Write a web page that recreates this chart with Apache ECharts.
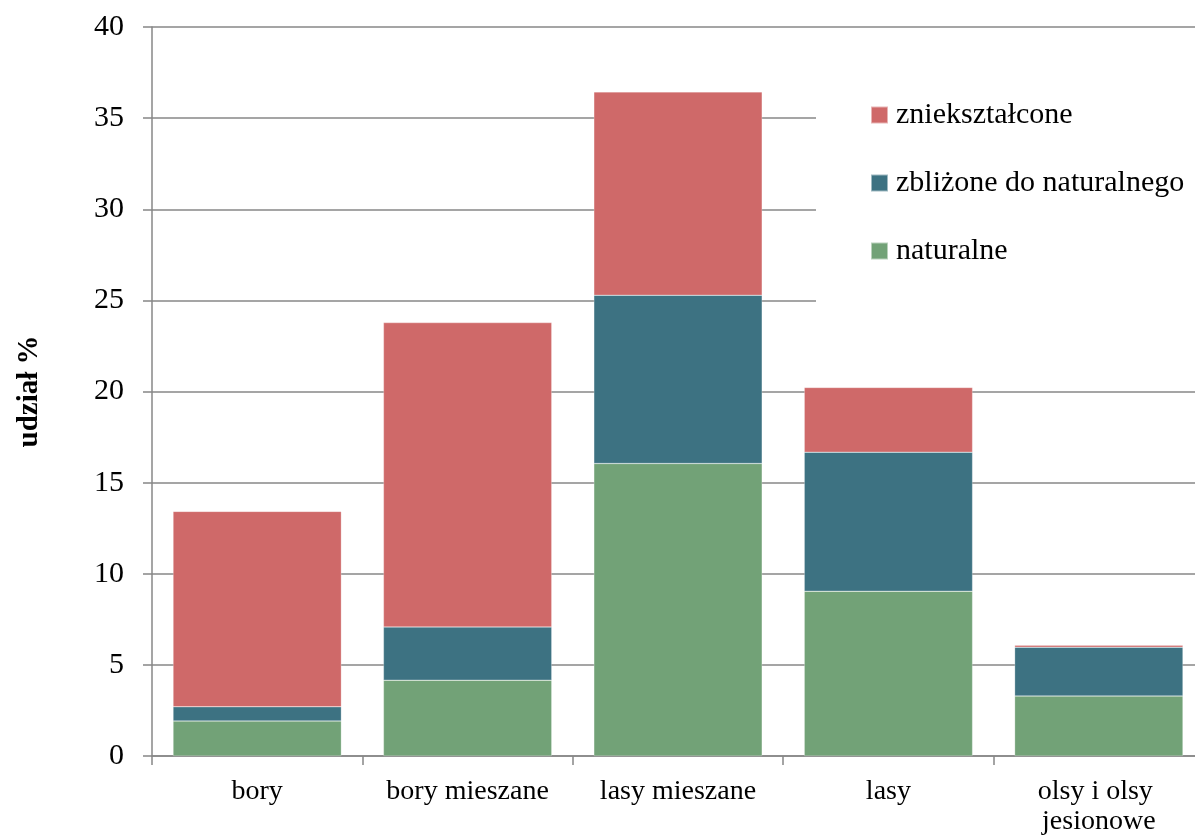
<!DOCTYPE html>
<html><head><meta charset="utf-8">
<script src="https://cdn.jsdelivr.net/npm/echarts@6/dist/echarts.min.js"></script>
<style>html,body{margin:0;padding:0;background:#fff;overflow:hidden;width:1195px;height:837px}#c{width:1204px;height:837px}</style>
</head><body><div id="c"></div>
<script>
const categories = ['bory', 'bory mieszane', 'lasy mieszane', 'lasy', 'olsy i olsy jesionowe'];
const naturalne = [1.92, 4.16, 16.05, 9.04, 3.29];
const zblizone = [0.78, 2.92, 9.23, 7.63, 2.68];
const znieksztalcone = [10.72, 16.70, 11.16, 3.55, 0.11];
const yTicks = [0, 5, 10, 15, 20, 25, 30, 35, 40];

const FONT = '"Liberation Serif", "DejaVu Serif", serif';
const GRID = '#878787';
const chart = echarts.init(document.getElementById('c'), null, {renderer: 'canvas'});
const bar = (name, data, color) => ({
  name, type: 'bar', stack: 'total', data, barCategoryGap: '20%',
  itemStyle: {color, borderColor: 'rgba(255,255,255,0.5)', borderWidth: 0.5},
  emphasis: {disabled: true}
});
chart.setOption({
  animation: false,
  backgroundColor: '#fff',
  grid: {left: 152, top: 27, right: 0, bottom: 74, containLabel: false},
  legend: {
    orient: 'vertical', left: 816, top: 60,
    padding: [40, 20, 40, 54],
    backgroundColor: '#fff',
    itemWidth: 17, itemHeight: 17, itemGap: 38,
    icon: 'rect',
    data: ['zniekształcone', 'zbliżone do naturalnego', 'naturalne'],
    textStyle: {fontFamily: FONT, fontSize: 30, color: '#000', lineHeight: 30, padding: [0,0,0,3]}
  },
  xAxis: {
    type: 'category', data: categories,
    axisLine: {lineStyle: {color: GRID, width: 1.5}},
    axisTick: {show: true, length: 9, lineStyle: {color: GRID, width: 1.5}},
    axisLabel: {
      fontFamily: FONT, fontSize: 28, color: '#000', margin: 21,
      width: 175, overflow: 'break', lineHeight: 30, interval: 0
    }
  },
  yAxis: {
    type: 'value', min: 0, max: 40, interval: 5,
    name: 'udział %', nameLocation: 'middle', nameGap: 108, nameRotate: 90,
    nameTextStyle: {fontFamily: FONT, fontSize: 29, fontWeight: 'bold', color: '#000'},
    axisLine: {show: true, lineStyle: {color: GRID, width: 1.5}},
    axisTick: {show: true, length: 9, lineStyle: {color: GRID, width: 1.5}},
    splitLine: {lineStyle: {color: GRID, width: 1.5}},
    axisLabel: {
      fontFamily: FONT, fontSize: 30, color: '#000', margin: 28,
      formatter: v => yTicks.includes(v) ? String(v) : ''
    }
  },
  series: [
    bar('naturalne', naturalne, '#72A277'),
    bar('zbliżone do naturalnego', zblizone, '#3D7282'),
    bar('zniekształcone', znieksztalcone, '#CF6969')
  ]
});
</script></body></html>
